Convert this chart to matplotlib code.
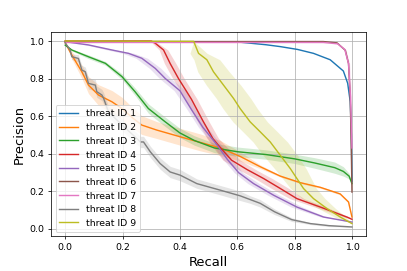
import numpy as np
import matplotlib
matplotlib.use("Agg")
import matplotlib.pyplot as plt

labels = ["threat ID %d" % i for i in range(1, 10)]

# recall / precision, with the half width of the shaded band
recall_1 = [0.0, 0.6, 0.7, 0.75, 0.81, 0.866, 0.924, 0.97, 0.985, 0.994, 0.998, 1.0]
prec_1 = [0.997, 0.995, 0.98, 0.97, 0.955, 0.934, 0.9, 0.84, 0.775, 0.676, 0.5, 0.25]
band_1 = [0.0] * 12

recall_2 = [0.0, 0.023, 0.058, 0.081, 0.116, 0.163, 0.198, 0.235, 0.267, 0.32, 0.40,
            0.47, 0.541, 0.61, 0.68, 0.75, 0.82, 0.89, 0.959, 0.988, 1.0]
prec_2 = [0.99, 0.925, 0.836, 0.765, 0.712, 0.676, 0.64, 0.59, 0.552, 0.525, 0.49,
          0.46, 0.43, 0.385, 0.33, 0.28, 0.245, 0.22, 0.185, 0.142, 0.062]
band_2 = [0.0, 0.02, 0.035, 0.045, 0.055, 0.06, 0.06, 0.055, 0.05, 0.045, 0.045,
          0.045, 0.04, 0.025, 0.01, 0.005, 0.005, 0.005, 0.005, 0.005, 0.0]

recall_3 = [0.0, 0.023, 0.081, 0.14, 0.198, 0.244, 0.29, 0.349, 0.40, 0.45, 0.52,
            0.6, 0.7, 0.8, 0.87, 0.94, 0.97, 0.99, 1.0]
prec_3 = [0.978, 0.952, 0.916, 0.881, 0.81, 0.729, 0.64, 0.569, 0.51, 0.47, 0.43,
          0.41, 0.395, 0.372, 0.35, 0.325, 0.305, 0.28, 0.24]
band_3 = [0.0, 0.005, 0.01, 0.01, 0.015, 0.02, 0.025, 0.025, 0.025, 0.025, 0.025,
          0.025, 0.025, 0.025, 0.028, 0.03, 0.025, 0.015, 0.0]

recall_4 = [0.0, 0.3, 0.314, 0.343, 0.366, 0.395, 0.44, 0.48, 0.515, 0.545, 0.58,
            0.634, 0.692, 0.75, 0.808, 0.89, 0.982, 1.0]
prec_4 = [1.0, 1.0, 0.988, 0.952, 0.88, 0.80, 0.69, 0.575, 0.48, 0.425, 0.365,
          0.315, 0.267, 0.214, 0.16, 0.115, 0.062, 0.05]
band_4 = [0.0, 0.0, 0.01, 0.015, 0.02, 0.02, 0.02, 0.02, 0.02, 0.025, 0.03,
          0.03, 0.03, 0.03, 0.025, 0.02, 0.01, 0.0]

recall_5 = [0.0, 0.081, 0.163, 0.221, 0.267, 0.314, 0.349, 0.40, 0.44, 0.48, 0.53,
            0.565, 0.605, 0.657, 0.727, 0.808, 0.901, 1.0]
prec_5 = [0.996, 0.979, 0.952, 0.934, 0.908, 0.854, 0.80, 0.735, 0.635, 0.54, 0.445,
          0.37, 0.298, 0.24, 0.178, 0.115, 0.062, 0.035]
band_5 = [0.0, 0.01, 0.015, 0.02, 0.02, 0.02, 0.02, 0.02, 0.015, 0.015, 0.015,
          0.015, 0.015, 0.02, 0.02, 0.02, 0.01, 0.0]

recall_6 = [0.0, 0.9, 0.948, 0.977, 0.988, 0.994, 0.998, 1.0]
prec_6 = [0.997, 0.997, 0.99, 0.95, 0.88, 0.70, 0.4, 0.195]
band_6 = [0.0] * 8

recall_7 = [0.0, 0.9, 0.95, 0.975, 0.988, 0.995, 1.0]
prec_7 = [0.992, 0.992, 0.985, 0.955, 0.88, 0.70, 0.43]
band_7 = [0.0, 0.0, 0.003, 0.004, 0.004, 0.004, 0.0]

recall_8 = [0.0, 0.017, 0.023, 0.046, 0.058, 0.07, 0.081, 0.105, 0.11, 0.128, 0.134,
            0.151, 0.2, 0.25, 0.262, 0.273, 0.297, 0.331, 0.366, 0.401, 0.459, 0.541,
            0.61, 0.645, 0.68, 0.73, 0.79, 0.855, 0.92, 1.0]
prec_8 = [0.99, 0.952, 0.916, 0.907, 0.845, 0.836, 0.774, 0.765, 0.73, 0.712, 0.694,
          0.622, 0.55, 0.48, 0.462, 0.462, 0.409, 0.347, 0.302, 0.285, 0.24, 0.205,
          0.175, 0.155, 0.135, 0.09, 0.048, 0.027, 0.016, 0.009]
band_8 = [0.0, 0.01, 0.015, 0.02, 0.025, 0.025, 0.03, 0.03, 0.03, 0.03, 0.03,
          0.03, 0.03, 0.03, 0.03, 0.03, 0.03, 0.03, 0.03, 0.03, 0.025, 0.025,
          0.025, 0.02, 0.02, 0.015, 0.01, 0.005, 0.005, 0.0]

recall_9 = [0.0, 0.448, 0.465, 0.494, 0.517, 0.552, 0.587, 0.61, 0.645, 0.68, 0.715,
            0.75, 0.785, 0.808, 0.831, 0.866, 0.913, 0.959, 1.0]
prec_9 = [1.0, 0.998, 0.934, 0.9, 0.836, 0.765, 0.694, 0.64, 0.569, 0.516, 0.462,
          0.391, 0.32, 0.267, 0.214, 0.16, 0.107, 0.062, 0.027]
band_9 = [0.0, 0.0, 0.03, 0.045, 0.055, 0.06, 0.06, 0.06, 0.06, 0.06, 0.06,
          0.06, 0.055, 0.05, 0.045, 0.04, 0.03, 0.02, 0.0]

# steep curves get their band across recall, flat ones across precision
band_axis = ["y", "y", "y", "x", "x", "y", "x", "y", "x"]

recalls = [recall_1, recall_2, recall_3, recall_4, recall_5, recall_6, recall_7, recall_8, recall_9]
precs = [prec_1, prec_2, prec_3, prec_4, prec_5, prec_6, prec_7, prec_8, prec_9]
bands = [band_1, band_2, band_3, band_4, band_5, band_6, band_7, band_8, band_9]

fig = plt.figure(figsize=(6, 4), dpi=407 / 6)
ax = fig.add_subplot(111)
fig.subplots_adjust(left=0.125, right=0.9, top=0.882, bottom=0.128)

for i in range(9):
    r = np.array(recalls[i])
    p = np.array(precs[i])
    b = np.array(bands[i])
    color = "C%d" % i
    ax.plot(r, p, color=color, lw=1.5, label=labels[i])
    if b.max() > 0:
        if band_axis[i] == "y":
            ax.fill_between(r, np.clip(p - b, 0, 1), np.clip(p + b, 0, 1),
                            color=color, alpha=0.2, lw=0)
        else:
            ax.fill_betweenx(p, np.clip(r - b, 0, 1), np.clip(r + b, 0, 1),
                             color=color, alpha=0.2, lw=0)

ax.grid(True)
ax.set_xlabel("Recall", fontsize=14)
ax.set_ylabel("Precision", fontsize=14)
ax.legend(loc="lower left", fontsize=10)

fig.savefig("out.png", dpi=407 / 6)
